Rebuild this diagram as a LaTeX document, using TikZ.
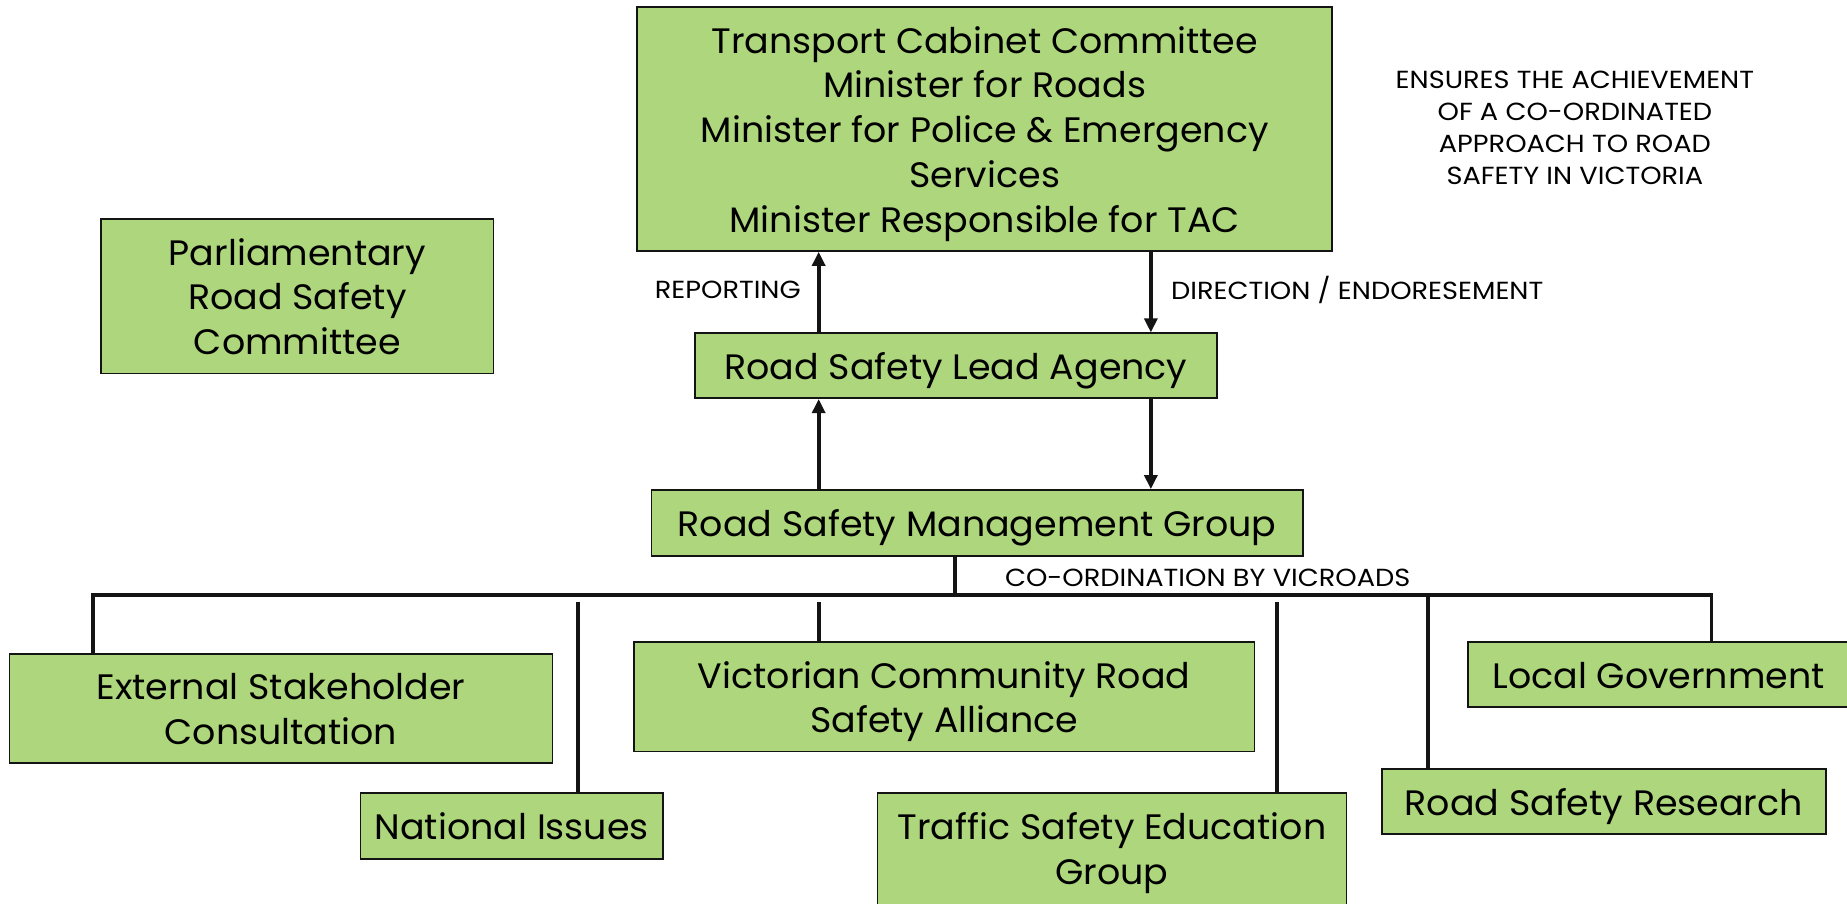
\documentclass[tikz,border=0pt]{standalone}
\usepackage{fontspec}
\setmainfont{Poppins}
\newfontfamily\boxfont[FakeStretch=1.03]{Poppins}
\newfontfamily\notefont[FakeStretch=1.1]{Poppins}
\usetikzlibrary{arrows.meta}
\definecolor{boxgreen}{RGB}{174,214,124}
\definecolor{ink}{RGB}{20,20,20}
% centred lines, set a little below the geometric middle of the box
\newcommand{\boxlines}[1]{\raisebox{-4pt}[\height][\depth]{\begin{tabular}{@{}c@{}}#1\end{tabular}}}
\tikzset{
  orgbox/.style={draw=ink, line width=1.5pt, fill=boxgreen, inner sep=0pt,
    font=\boxfont\fontsize{30}{38}\selectfont},
  note/.style={inner sep=0pt, font=\notefont\fontsize{21}{27}\selectfont, align=center},
  conn/.style={draw=ink, line width=3.2pt},
  arr/.style={conn, -{Triangle[length=12pt,width=11pt]}},
}
\begin{document}
\begin{tikzpicture}[x=1pt,y=-1pt]
\useasboundingbox (0,0) rectangle (1568,767);

% governance boxes
\node[orgbox, minimum width=590pt, minimum height=207pt] (tcc) at (836,109.5)
  {\boxlines{Transport Cabinet Committee\\Minister for Roads\\Minister for Police \& Emergency\\Services\\Minister Responsible for TAC}};
\node[orgbox, minimum width=333pt, minimum height=131pt] (prsc) at (252.5,251.5)
  {\boxlines{Parliamentary\\Road Safety\\Committee}};
\node[orgbox, minimum width=443pt, minimum height=55pt] (rsla) at (811.5,310.5)
  {\boxlines{Road Safety Lead Agency}};
\node[orgbox, minimum width=553pt, minimum height=56pt] (rsmg) at (829.5,444)
  {\boxlines{Road Safety Management Group}};

% member boxes
\node[orgbox, minimum width=461pt, minimum height=93pt] (esc) at (238.5,601.5)
  {\boxlines{External Stakeholder\\Consultation}};
\node[orgbox, minimum width=257pt, minimum height=56pt] (nat) at (434.5,701)
  {\boxlines{National Issues}};
\node[orgbox, minimum width=527pt, minimum height=93pt] (vcrsa) at (801.5,591.5)
  {\boxlines{Victorian Community Road\\Safety Alliance}};
\node[orgbox, minimum width=398pt, minimum height=95pt] (tseg) at (944,720.5)
  {\boxlines{Traffic Safety Education\\Group}};
\node[orgbox, minimum width=377pt, minimum height=55pt] (rsr) at (1361.5,680.5)
  {\boxlines{Road Safety Research}};
\node[orgbox, minimum width=324pt, minimum height=55pt] (lg) at (1408,572.5)
  {\boxlines{Local Government}};

% notes
\node[note] (aim) at (1337,108.5)
  {ENSURES THE ACHIEVEMENT\\OF A CO-ORDINATED\\APPROACH TO ROAD\\SAFETY IN VICTORIA};
\node[note, anchor=east] (rep) at (680,246.5) {REPORTING};
\node[note, anchor=west] (dir) at (994,246.5) {DIRECTION / ENDORESEMENT};
\node[note, anchor=west] (coord) at (853,490.5) {CO-ORDINATION BY VICROADS};

% reporting / direction arrows
\coordinate (upx) at (695,0);
\coordinate (dnx) at (977,0);
\draw[arr] (rsla.north -| upx) -- (tcc.south -| upx);
\draw[arr] (tcc.south -| dnx) -- (rsla.north -| dnx);
\draw[arr] (rsmg.north -| upx) -- (rsla.south -| upx);
\draw[arr] (rsla.south -| dnx) -- (rsmg.north -| dnx);

% co-ordination bus
\coordinate (busL) at (79,505);
\coordinate (busM) at (811,505);
\coordinate (busR) at (1453,505);
\draw[conn] (rsmg.south -| busM) -- (busM);
\draw[conn, line join=miter] (esc.north -| busL) -- (busL) -- (busR) -- (lg.north -| busR);
\coordinate (dropNat) at (491,511);
\coordinate (dropVic) at (695,511);
\coordinate (dropTse) at (1084,511);
\coordinate (dropRsr) at (1212,505);
\draw[conn] (dropNat) -- (nat.north -| dropNat);
\draw[conn] (dropVic) -- (vcrsa.north -| dropVic);
\draw[conn] (dropTse) -- (tseg.north -| dropTse);
\draw[conn] (dropRsr) -- (rsr.north -| dropRsr);
\end{tikzpicture}
\end{document}
